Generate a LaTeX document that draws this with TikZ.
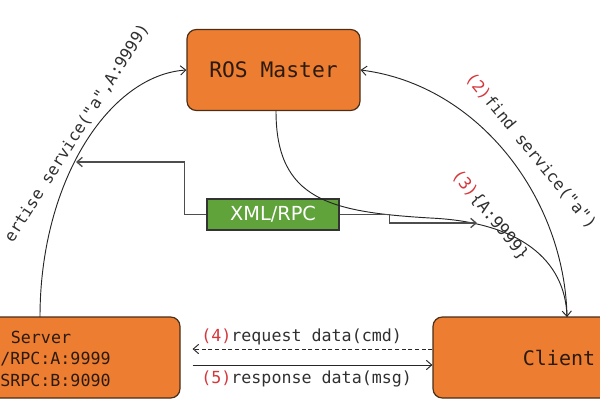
\documentclass[tikz,border=0pt]{standalone}
\usepackage{fontspec}
\setmainfont{DejaVu Sans}
\setmonofont{DejaVu Sans Mono}
\usetikzlibrary{arrows.meta}
\definecolor{orangebox}{HTML}{ED7D31}
\definecolor{boxline}{HTML}{4A2E17}
\definecolor{greenbox}{HTML}{5FA33A}
\definecolor{labred}{HTML}{D4373C}
\definecolor{linegray}{HTML}{4D4D4D}
\definecolor{txt}{HTML}{303030}
\definecolor{boxtext}{HTML}{2B1A0E}
\begin{document}
\begin{tikzpicture}[x=0.75pt,y=-0.75pt,
  obox/.style={draw=boxline, line width=0.9pt, fill=orangebox, rounded corners=7pt, inner sep=0pt},
  gbox/.style={draw=black!80, line width=1pt, fill=greenbox, inner sep=0pt, text=white, font=\fontsize{14.5}{16}\selectfont},
  conn/.style={draw=black!85, line width=0.7pt, -{Straight Barb[length=4pt,width=7pt]}},
  xconn/.style={draw=linegray, line width=1pt, -{Straight Barb[length=4pt,width=7pt]}},
  lab/.style={font=\ttfamily\fontsize{12.5}{14}\selectfont, text=txt, inner sep=0pt},
  boxtxt/.style={font=\ttfamily\fontsize{12.5}{14}\selectfont, text=boxtext, inner sep=0pt},
]
\useasboundingbox (0,0) rectangle (600,400);
\clip (0,0) rectangle (600,400);

% boxes
\node[obox, minimum width=129.75pt, minimum height=60.75pt, font=\ttfamily\fontsize{16}{18}\selectfont, text=boxtext] (master) at (273.5,70) {ROS Master};
\node[obox, minimum width=157.5pt, minimum height=60.75pt] (server) at (75,357.5) {};
\node[obox, minimum width=155.25pt, minimum height=60.75pt] (client) at (536.5,357.5) {};
\node[font=\ttfamily\fontsize{15}{17}\selectfont, text=boxtext, inner sep=0pt] (clientlbl) at (559,358) {Client};
\node[boxtxt] (srv1) at (41,337) {Server};
\node[boxtxt, anchor=west] (srv2) at (0,359) {/RPC:A:9999};
\node[boxtxt, anchor=west] (srv3) at (0,380) {SRPC:B:9090};
\node[gbox, minimum width=99pt, minimum height=23.25pt] (xml) at (273,214.5) {XML/RPC};

% anchor points
\coordinate (advS) at (40,317);
\coordinate (cTop) at (567,317);
\coordinate (mB) at (276,111);
\coordinate (xL) at (76,162);
\coordinate (xR) at (477,223);
\coordinate (y4) at (0,349);
\coordinate (y5) at (0,365);

% connectors
\draw[conn] (advS) .. controls (40,180) and (110,75) .. (master.west);
\draw[conn] (cTop) .. controls (565,200) and (480,85) .. (master.east);
\draw[conn] (mB) .. controls (276,200) and (330,212) .. (430,218) .. controls (520,222) and (565,260) .. (cTop);
\draw[xconn] (xml.west) -- ++(-22,0) |- (xL);
\draw[xconn] (xml.east) -- ++(50,0) |- (xR);
\draw[conn, dash pattern=on 3pt off 2pt, shorten >=9pt] (client.west |- y4) -- (server.east |- y4);
\draw[conn, shorten <=9pt] (server.east |- y5) -- (client.west |- y5);

% labels
\node[lab, rotate=57.5, font=\ttfamily\fontsize{12.2}{14}\selectfont] (advlbl) at (77,133) {ertise service("a",A:9999)};
\node[lab, rotate=-50.7, font=\ttfamily\fontsize{12.2}{14}\selectfont] (findlbl) at (531,151) {\textcolor{labred}{(2)}find service("a")};
\node[lab, rotate=-51] (retlbl) at (490,215) {\textcolor{labred}{(3)}\{A:9999\}};
\node[lab, anchor=west] (reqlbl) at (201,337) {\textcolor{labred}{(4)}request data(cmd)};
\node[lab, anchor=west] (reslbl) at (201,379) {\textcolor{labred}{(5)}response data(msg)};
\end{tikzpicture}
\end{document}
